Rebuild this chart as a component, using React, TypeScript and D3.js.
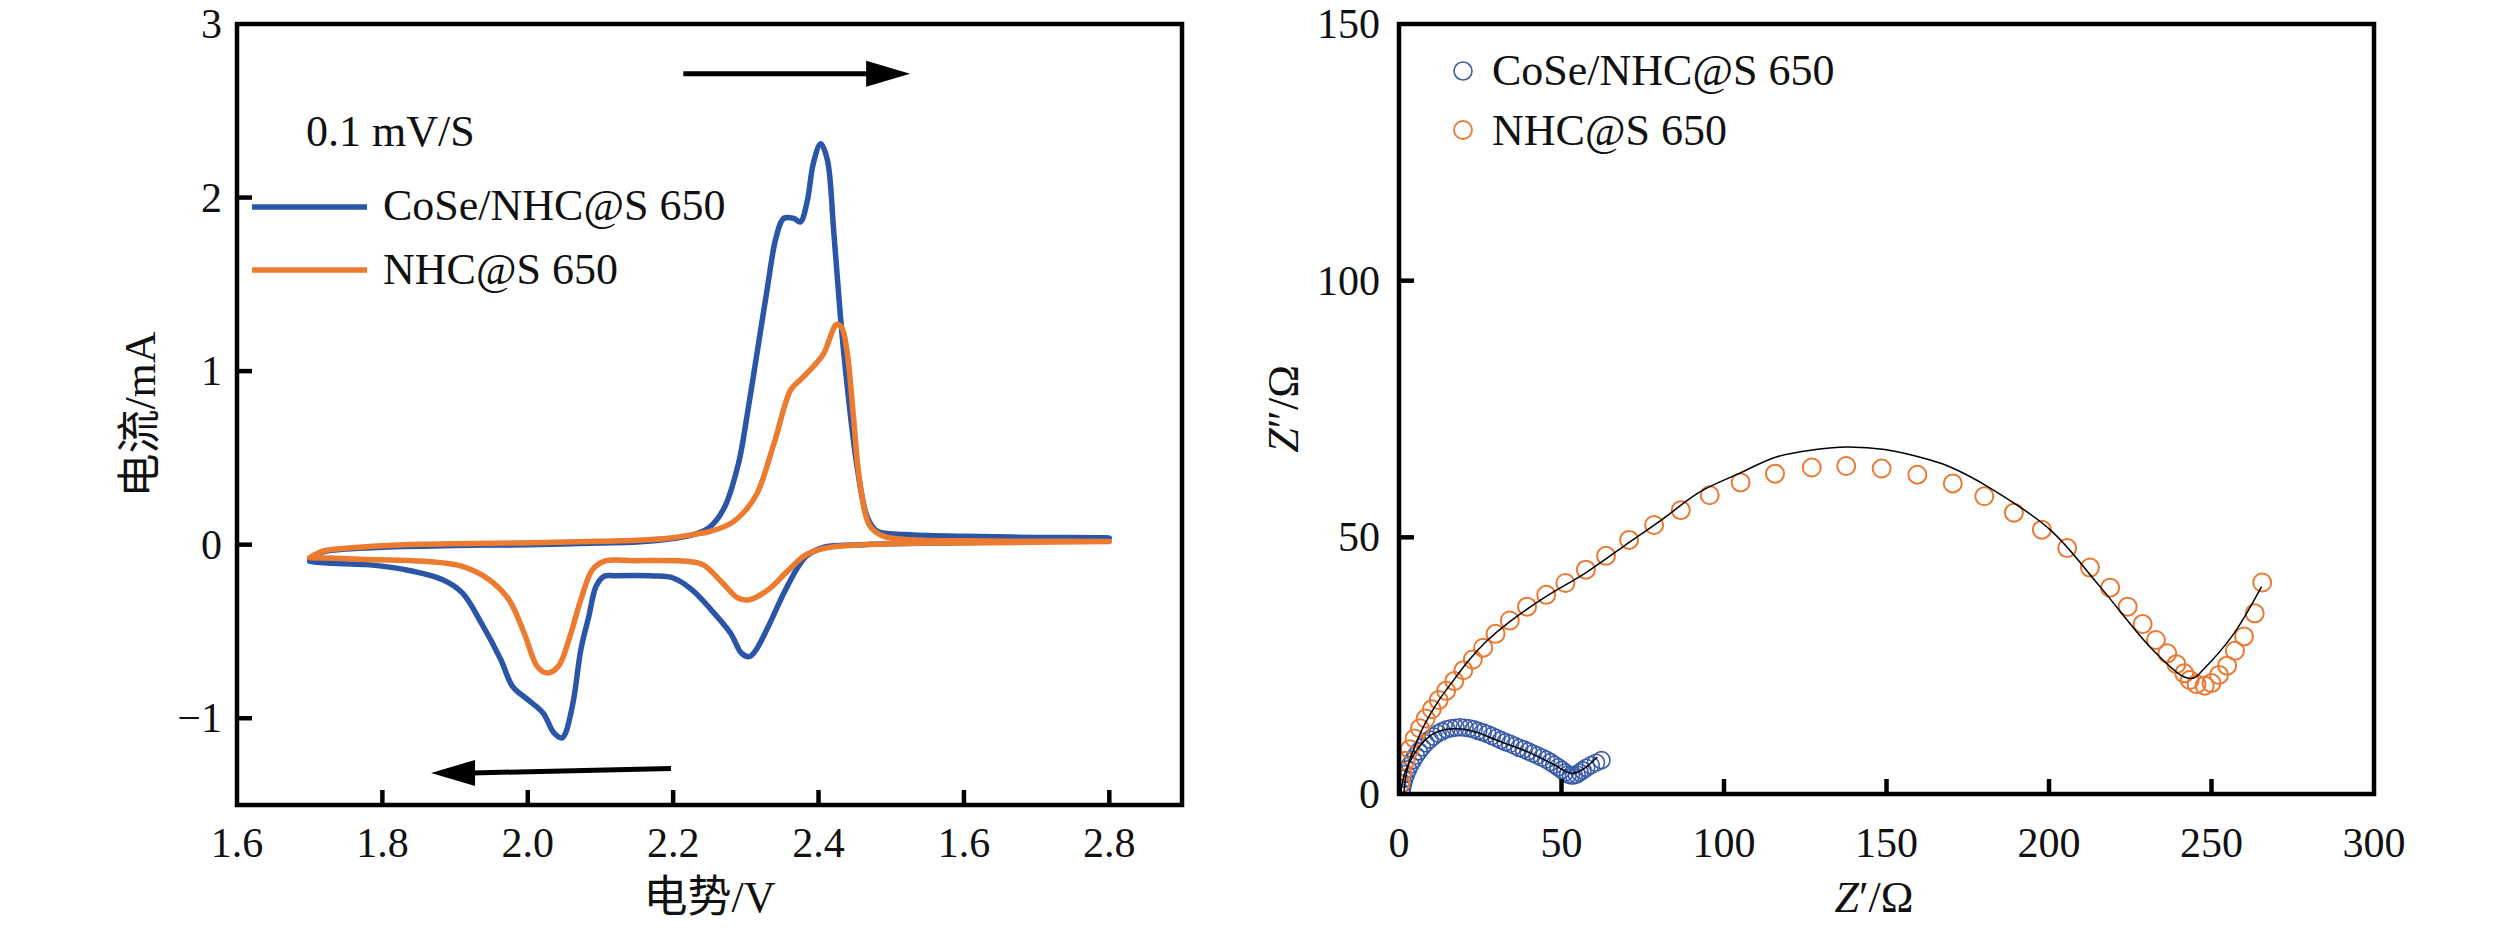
import React from "react";
import * as d3 from "d3";

// ---------- Left panel: CV data (potential V, current mA) ----------
const cvCoSeAnodic: [number, number][] = [
  [1.70, -0.085], [1.72, -0.04], [1.75, -0.025], [1.80, -0.015], [1.90, -0.005], [2.00, 0.0],
  [2.10, 0.01], [2.15, 0.015], [2.20, 0.035], [2.23, 0.06], [2.25, 0.10], [2.27, 0.21],
  [2.29, 0.47], [2.30, 0.70], [2.316, 1.12], [2.33, 1.49], [2.341, 1.76], [2.352, 1.88],
  [2.366, 1.88], [2.375, 1.86], [2.384, 1.97], [2.393, 2.20], [2.403, 2.31], [2.412, 2.22],
  [2.421, 1.80], [2.430, 1.32], [2.439, 0.93], [2.453, 0.45], [2.467, 0.16], [2.48, 0.08],
  [2.52, 0.058], [2.6, 0.048], [2.7, 0.042], [2.8, 0.038],
];
const cvCoSeCathodic: [number, number][] = [
  [2.8, 0.038], [2.7, 0.022], [2.6, 0.012], [2.5, 0.005], [2.45, -0.002], [2.41, -0.012],
  [2.383, -0.067], [2.357, -0.24], [2.331, -0.47], [2.315, -0.60], [2.305, -0.645],
  [2.294, -0.625], [2.279, -0.51], [2.252, -0.374], [2.226, -0.26], [2.20, -0.192],
  [2.173, -0.18], [2.121, -0.179], [2.105, -0.182], [2.094, -0.24], [2.084, -0.413],
  [2.073, -0.605], [2.063, -0.893], [2.052, -1.085], [2.047, -1.114], [2.036, -1.085],
  [2.021, -0.97], [2.0, -0.893], [1.979, -0.816], [1.963, -0.663], [1.936, -0.451],
  [1.91, -0.278], [1.883, -0.202], [1.831, -0.144], [1.778, -0.115], [1.725, -0.106], [1.70, -0.095],
];
const cvNhcAnodic: [number, number][] = [
  [1.70, -0.075], [1.72, -0.035], [1.75, -0.02], [1.83, 0.0], [1.99, 0.01], [2.10, 0.02],
  [2.15, 0.025], [2.20, 0.04], [2.226, 0.058], [2.25, 0.075], [2.28, 0.125], [2.30, 0.20],
  [2.316, 0.30], [2.339, 0.586], [2.362, 0.894], [2.375, 0.95], [2.393, 1.027], [2.407, 1.10],
  [2.425, 1.27], [2.432, 1.25], [2.439, 1.12], [2.448, 0.74], [2.457, 0.355], [2.471, 0.105],
  [2.49, 0.048], [2.52, 0.03], [2.6, 0.022], [2.7, 0.02], [2.8, 0.018],
];
const cvNhcCathodic: [number, number][] = [
  [2.8, 0.018], [2.6, 0.01], [2.5, 0.005], [2.41, -0.019], [2.383, -0.058], [2.357, -0.154],
  [2.331, -0.259], [2.305, -0.317], [2.289, -0.307], [2.268, -0.221], [2.241, -0.115],
  [2.22, -0.096], [2.147, -0.092], [2.105, -0.096], [2.089, -0.144], [2.073, -0.317],
  [2.058, -0.528], [2.042, -0.701], [2.026, -0.739], [2.013, -0.701], [1.995, -0.509],
  [1.974, -0.317], [1.947, -0.202], [1.91, -0.125], [1.857, -0.096], [1.778, -0.086],
  [1.725, -0.077], [1.70, -0.075],
];
const cvXTicks = [1.6, 1.8, 2.0, 2.2, 2.4, 2.6, 2.8];
const cvXTickLabels = ["1.6", "1.8", "2.0", "2.2", "2.4", "1.6", "2.8"];
const cvYTicks = [3, 2, 1, 0, -1];
const cvYTickLabels = ["3", "2", "1", "0", "\u22121"];
const cvLegend = ["CoSe/NHC@S 650", "NHC@S 650"];
const cvNote = "0.1 mV/S";

// ---------- Right panel: EIS data (Z', Z'') ----------
const eisCoSe: [number, number][] = [
  [0.8, 0.3], [1.0, 1.2], [1.3, 2.1], [1.7, 3.0], [2.2, 3.9], [2.8, 4.8], [3.5, 5.7], [4.3, 6.6],
  [5.2, 7.5], [6.1, 8.3], [7.1, 9.1], [8.2, 9.9], [9.4, 10.6], [10.6, 11.2], [11.9, 11.8],
  [13.2, 12.2], [14.6, 12.6], [16.0, 12.8], [17.4, 12.9], [18.8, 13.0], [20.2, 12.9],
  [21.6, 12.8], [23.0, 12.6], [24.4, 12.3], [25.8, 12.0], [27.2, 11.7], [28.6, 11.3],
  [30.0, 10.9], [31.4, 10.5], [32.8, 10.1], [34.2, 9.8], [35.6, 9.4], [37.0, 9.0], [38.4, 8.7],
  [39.8, 8.3], [41.2, 7.9], [42.6, 7.5], [44.0, 7.1], [45.3, 6.7], [46.6, 6.2], [47.8, 5.7],
  [49.0, 5.2], [50.1, 4.7], [51.1, 4.2], [52.0, 3.8], [52.9, 3.6], [53.8, 3.6], [54.7, 3.8],
  [55.6, 4.2], [56.5, 4.6], [57.6, 5.1], [59.0, 5.6], [60.6, 6.1], [62.3, 6.6],
];
const eisCoSeFit: [number, number][] = [
  [0.5, 0], [1, 2], [2, 4.5], [3.5, 6.5], [5.5, 8.6], [8, 10.5], [11, 11.9], [14, 12.5],
  [17, 12.7], [20, 12.6], [24, 12.0], [28, 11.0], [32, 10.0], [36, 9.1], [40, 8.1], [44, 6.9],
  [48, 5.6], [51, 4.5], [53, 4.0], [55, 4.3], [57, 5.0], [59, 6.0], [61, 7.2],
];
const eisNhc: [number, number][] = [
  [0.4, 2.0], [1.0, 4.3], [2.0, 6.5], [3.3, 8.7], [4.8, 10.8], [6.4, 12.8], [8.2, 14.7],
  [10.1, 16.5], [12.2, 18.3], [14.5, 20.1], [17.0, 22.0], [19.8, 24.1], [22.7, 26.2],
  [25.9, 28.5], [29.7, 31.2], [34.1, 33.8], [39.4, 36.5], [45.3, 38.8], [51.2, 41.1],
  [57.5, 43.7], [63.7, 46.4], [70.8, 49.5], [78.5, 52.4], [86.7, 55.3], [95.6, 58.2],
  [105.1, 60.7], [115.7, 62.4], [127.0, 63.6], [137.6, 63.9], [148.5, 63.4], [159.5, 62.2],
  [170.4, 60.5], [180.1, 58.0], [189.2, 54.8], [197.8, 51.5], [205.6, 47.9], [212.6, 44.1],
  [218.8, 40.2], [224.2, 36.5], [228.8, 33.1], [232.9, 30.0], [236.4, 27.4], [239.2, 25.3],
  [241.6, 23.5], [243.3, 22.2], [245.4, 21.4], [247.9, 21.1], [250.0, 21.6], [252.3, 23.2],
  [254.8, 25.0], [257.2, 27.9], [260.0, 30.7], [263.3, 35.2], [265.6, 41.2],
];
const eisNhcFit: [number, number][] = [
  [1.5, 0], [2, 3], [3, 6], [5, 9.5], [8, 13.7], [12, 18], [16, 21.5], [21.7, 26.2], [27, 29.8],
  [33.5, 33.3], [45.3, 38.5], [57.2, 43.0], [69, 48.2], [80.8, 53.4], [92.7, 58.9],
  [104.5, 62.4], [116.3, 65.7], [128.2, 67.1], [137.6, 67.6], [149.5, 67.1], [163.7, 65.0],
  [169.6, 63.7], [181.9, 59.6], [200.3, 51.5], [215.7, 40.4], [231, 28.7], [241.3, 22.9],
  [244.5, 22.6], [247.4, 24.2], [256.6, 31], [265.4, 40.4],
];
const eisXTicks = [0, 50, 100, 150, 200, 250, 300];
const eisYTicks = [0, 50, 100, 150];
const eisLegend = ["CoSe/NHC@S 650", "NHC@S 650"];

// ---------- styling ----------
const BLUE = "#2B55A6";
const ORANGE = "#EC7B30";
const CIRC_BLUE = "#3B5CA8";
const CIRC_ORANGE = "#EA7A33";
const FONT = "'Liberation Serif', 'Times New Roman', 'Noto Sans CJK SC', serif";
const TICK_FS = 42;
const LABEL_FS = 44;

export default function App() {
  // Left scales
  const xL = d3.scaleLinear().domain([1.6, 2.9]).range([237, 1182]);
  const yL = d3.scaleLinear().domain([-1.5, 3]).range([805, 24]);
  // Right scales
  const xR = d3.scaleLinear().domain([0, 300]).range([1399, 2374]);
  const yR = d3.scaleLinear().domain([0, 150]).range([794, 24]);

  const cvLine = d3
    .line<[number, number]>()
    .x((d) => xL(d[0]))
    .y((d) => yL(d[1]))
    .curve(d3.curveCatmullRom.alpha(0.5));
  const fitLine = d3
    .line<[number, number]>()
    .x((d) => xR(d[0]))
    .y((d) => yR(d[1]))
    .curve(d3.curveCatmullRom.alpha(0.5));

  const coseLoop = [...cvCoSeAnodic, ...cvCoSeCathodic.slice(1)];
  const nhcLoop = [...cvNhcAnodic, ...cvNhcCathodic.slice(1)];

  const [lx0, lx1] = xL.range();
  const [ly0, ly1] = yL.range(); // bottom, top
  const [rx0, rx1] = xR.range();
  const [ry0, ry1] = yR.range();

  const TL = 15;
  const axisW = 4.5;

  // arrows (in data units of the CV panel)
  const arrTop = { x1: 2.214, x2: 2.526, y: 2.713 };
  const arrBot = { x1: 2.197, x2: 1.867, y1: -1.29, y2: -1.315 };
  const headLen = 44;
  const headHalf = 13;

  return (
    <svg
      width={2519}
      height={928}
      style={{ position: "absolute", left: 0, top: 0, display: "block", background: "#fff" }}
      fontFamily={FONT}
    >
      <rect x={0} y={0} width={2519} height={928} fill="#fff" />

      {/* ===== LEFT PANEL ===== */}
      <g clipPath="url(#clipL)">
        <path d={cvLine(coseLoop) || ""} fill="none" stroke={BLUE} strokeWidth={5.5} strokeLinejoin="round" strokeLinecap="round" />
        <path d={cvLine(nhcLoop) || ""} fill="none" stroke={ORANGE} strokeWidth={5.5} strokeLinejoin="round" strokeLinecap="round" />
      </g>
      <defs>
        <clipPath id="clipL">
          <rect x={lx0} y={ly1} width={lx1 - lx0} height={ly0 - ly1} />
        </clipPath>
      </defs>

      {/* frame */}
      <rect x={lx0} y={ly1} width={lx1 - lx0} height={ly0 - ly1} fill="none" stroke="#000" strokeWidth={axisW} />
      {/* x ticks */}
      {cvXTicks.map((t, i) => (
        <g key={"lxt" + i}>
          {i > 0 && <line x1={xL(t)} x2={xL(t)} y1={ly0} y2={ly0 - TL} stroke="#000" strokeWidth={axisW} />}
          <text x={xL(t)} y={857} fontSize={TICK_FS} textAnchor="middle" fill="#111">
            {cvXTickLabels[i]}
          </text>
        </g>
      ))}
      {/* y ticks */}
      {cvYTicks.map((t, i) => (
        <g key={"lyt" + i}>
          {t !== 3 && <line x1={lx0} x2={lx0 + TL} y1={yL(t)} y2={yL(t)} stroke="#000" strokeWidth={axisW} />}
          <text x={222} y={yL(t) + 14} fontSize={TICK_FS} textAnchor="end" fill="#111">
            {cvYTickLabels[i]}
          </text>
        </g>
      ))}
      {/* axis labels */}
      <text x={(lx0 + lx1) / 2} y={912} fontSize={LABEL_FS} textAnchor="middle" fill="#111">
        电势/V
      </text>
      <text
        transform={`translate(140, ${(ly0 + ly1) / 2}) rotate(-90)`}
        fontSize={LABEL_FS}
        textAnchor="middle"
        dy="0.35em"
        fill="#111"
      >
        电流/mA
      </text>

      {/* legend */}
      <text x={306} y={146} fontSize={LABEL_FS} fill="#111">
        {cvNote}
      </text>
      <line x1={252} x2={367} y1={207} y2={207} stroke={BLUE} strokeWidth={5.5} />
      <text x={383} y={220} fontSize={LABEL_FS} fill="#111">
        {cvLegend[0]}
      </text>
      <line x1={252} x2={367} y1={270} y2={270} stroke={ORANGE} strokeWidth={5.5} />
      <text x={383} y={284} fontSize={LABEL_FS} fill="#111">
        {cvLegend[1]}
      </text>

      {/* arrows */}
      <line x1={xL(arrTop.x1)} x2={xL(arrTop.x2) - headLen + 2} y1={yL(arrTop.y)} y2={yL(arrTop.y)} stroke="#000" strokeWidth={5} />
      <polygon
        points={`${xL(arrTop.x2)},${yL(arrTop.y)} ${xL(arrTop.x2) - headLen},${yL(arrTop.y) - headHalf} ${xL(arrTop.x2) - headLen},${yL(arrTop.y) + headHalf}`}
        fill="#000"
      />
      <line x1={xL(arrBot.x1)} x2={xL(arrBot.x2) + headLen - 2} y1={yL(arrBot.y1)} y2={yL(arrBot.y2)} stroke="#000" strokeWidth={5} />
      <polygon
        points={`${xL(arrBot.x2)},${yL(arrBot.y2)} ${xL(arrBot.x2) + headLen},${yL(arrBot.y2) - headHalf} ${xL(arrBot.x2) + headLen},${yL(arrBot.y2) + headHalf}`}
        fill="#000"
      />

      {/* ===== RIGHT PANEL ===== */}
      <defs>
        <clipPath id="clipR">
          <rect x={rx0} y={ry1} width={rx1 - rx0} height={ry0 - ry1} />
        </clipPath>
      </defs>
      <g clipPath="url(#clipR)">
        {eisCoSe.map((d, i) => (
          <circle key={"bc" + i} cx={xR(d[0])} cy={yR(d[1])} r={8.5} fill="none" stroke={CIRC_BLUE} strokeWidth={1.6} />
        ))}
        {eisNhc.map((d, i) => (
          <circle key={"oc" + i} cx={xR(d[0])} cy={yR(d[1])} r={9} fill="none" stroke={CIRC_ORANGE} strokeWidth={2} />
        ))}
        <path d={fitLine(eisCoSeFit) || ""} fill="none" stroke="#000" strokeWidth={1.5} />
        <path d={fitLine(eisNhcFit) || ""} fill="none" stroke="#000" strokeWidth={1.5} />
      </g>
      <rect x={rx0} y={ry1} width={rx1 - rx0} height={ry0 - ry1} fill="none" stroke="#000" strokeWidth={axisW} />
      {eisXTicks.map((t, i) => (
        <g key={"rxt" + i}>
          {t !== 0 && t !== 300 && <line x1={xR(t)} x2={xR(t)} y1={ry0} y2={ry0 - TL} stroke="#000" strokeWidth={axisW} />}
          <text x={xR(t)} y={857} fontSize={TICK_FS} textAnchor="middle" fill="#111">
            {String(t)}
          </text>
        </g>
      ))}
      {eisYTicks.map((t, i) => (
        <g key={"ryt" + i}>
          {t !== 0 && t !== 150 && <line x1={rx0} x2={rx0 + TL} y1={yR(t)} y2={yR(t)} stroke="#000" strokeWidth={axisW} />}
          <text x={1380} y={yR(t) + 14} fontSize={TICK_FS} textAnchor="end" fill="#111">
            {String(t)}
          </text>
        </g>
      ))}
      <text x={1874} y={912} fontSize={LABEL_FS} textAnchor="middle" fill="#111">
        <tspan fontStyle="italic">Z</tspan>
        {"\u2032/\u03A9"}
      </text>
      <text
        transform={`translate(1283, ${(ry0 + ry1) / 2}) rotate(-90)`}
        fontSize={LABEL_FS}
        textAnchor="middle"
        dy="0.35em"
        fill="#111"
      >
        <tspan fontStyle="italic">Z</tspan>
        {"\u2033/\u03A9"}
      </text>

      {/* right legend */}
      <circle cx={1463} cy={71} r={9} fill="none" stroke={CIRC_BLUE} strokeWidth={1.6} />
      <text x={1492} y={85} fontSize={LABEL_FS} fill="#111">
        {eisLegend[0]}
      </text>
      <circle cx={1463} cy={130} r={9} fill="none" stroke={CIRC_ORANGE} strokeWidth={1.8} />
      <text x={1492} y={145} fontSize={LABEL_FS} fill="#111">
        {eisLegend[1]}
      </text>
    </svg>
  );
}
